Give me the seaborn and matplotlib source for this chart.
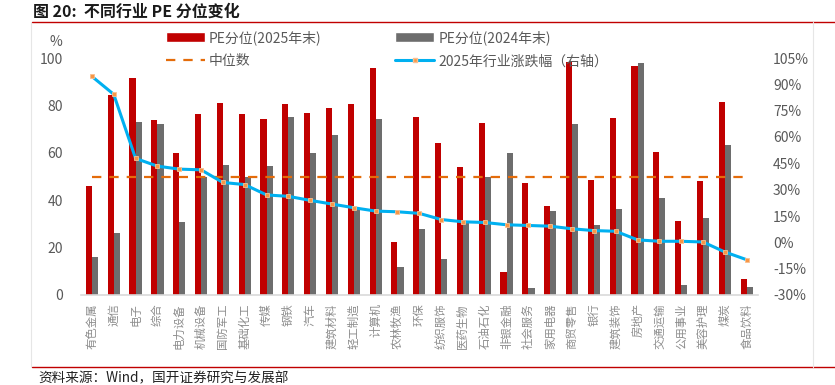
import numpy as np
import pandas as pd
import matplotlib
matplotlib.use("Agg")
import matplotlib.pyplot as plt
import seaborn as sns
from matplotlib.patches import Patch
from matplotlib.lines import Line2D

industries = ["有色金属", "通信", "电子", "综合", "电力设备", "机械设备", "国防军工", "基础化工",
              "传媒", "钢铁", "汽车", "建筑材料", "轻工制造", "计算机", "农林牧渔", "环保",
              "纺织服饰", "医药生物", "石油石化", "非银金融", "社会服务", "家用电器", "商贸零售",
              "银行", "建筑装饰", "房地产", "交通运输", "公用事业", "美容护理", "煤炭", "食品饮料"]
pe_2025 = [45.8, 84.3, 91.4, 73.9, 59.8, 76.5, 81.2, 76.2, 74.2, 80.5, 76.9, 79.0, 80.5, 95.6, 22.4, 75.2,
           64.2, 54.2, 72.7, 9.9, 47.2, 37.7, 98.4, 48.4, 74.8, 96.7, 60.2, 31.2, 48.2, 81.3, 6.7]
pe_2024 = [16.1, 26.2, 72.9, 72.0, 30.7, 49.9, 55.0, 49.6, 54.5, 74.9, 59.9, 67.7, 36.8, 74.2, 11.9, 27.9,
           15.2, 30.5, 49.6, 59.8, 3.0, 35.4, 72.2, 29.5, 36.4, 97.7, 41.1, 4.2, 32.4, 63.5, 3.4]
chg_2025 = [94.5, 84.3, 47.8, 43.4, 41.7, 41.3, 34.1, 32.9, 27.0, 26.2, 23.9, 21.8, 19.7, 17.8, 17.4, 16.5,
            13.0, 11.7, 11.3, 10.0, 9.6, 9.2, 7.7, 6.7, 6.3, 1.4, 0.6, 0.6, 0.2, -5.5, -9.9]
median_val = [50.0] * len(industries)
series_names = ["PE分位(2025年末)", "PE分位(2024年末)"]
line_name = "2025年行业涨跌幅（右轴）"
median_name = "中位数"
left_ticks = [0, 20, 40, 60, 80, 100]
right_ticks = [-30, -15, 0, 15, 30, 45, 60, 75, 90, 105]

sns.set_theme(style="white")
plt.rcParams['font.family'] = ['Noto Sans CJK SC', 'DejaVu Sans']

RED = "#C00000"
GRAY = "#6D6D6D"
CYAN = "#00B0F0"
ORANGE = "#E46C0A"
TXT = "#595959"

df = pd.DataFrame({
    "industry": industries * 2,
    "value": pe_2025 + pe_2024,
    "series": [series_names[0]] * len(industries) + [series_names[1]] * len(industries),
})

fig = plt.figure(figsize=(8.35, 3.85), dpi=100)
ax = fig.add_axes([81 / 835, 1 - 295 / 385, (757.6 - 81) / 835, (295 - 58) / 385])

sns.barplot(data=df, x="industry", y="value", hue="series", order=industries,
            hue_order=series_names, palette=[RED, GRAY], width=0.56, linewidth=0,
            saturation=1, legend=False, ax=ax, errorbar=None)
xpos = np.arange(len(industries))
sns.lineplot(x=xpos, y=median_val, ax=ax, color=ORANGE, linewidth=1.6,
             dashes=False, legend=False)
ax.lines[-1].set_dashes((4.2, 3.6))
ax.set_ylim(0, 100)
ax.set_xlim(-0.5, len(industries) - 0.5)
ax.set_yticks(left_ticks)
ax.set_yticklabels([str(t) for t in left_ticks])
ax.set_xlabel("")
ax.set_ylabel("")
ax.tick_params(axis='y', length=0, pad=13, labelsize=10, labelcolor=TXT)
ax.tick_params(axis='x', length=0, pad=6, labelsize=8.2, labelcolor="#8C8C8C")
ax.set_xticks(xpos)
ax.set_xticklabels(industries, rotation=90)
for s in ["top", "right", "left"]:
    ax.spines[s].set_visible(False)
ax.spines["bottom"].set_color("#D9D9D9")
ax.spines["bottom"].set_linewidth(1.2)

ax2 = ax.twinx()
sns.lineplot(x=xpos, y=chg_2025, ax=ax2, color=CYAN, linewidth=2.2, marker="s",
             markersize=3.2, markerfacecolor="#F79646", markeredgecolor="#FAC090",
             markeredgewidth=0.6, legend=False)
ax2.set_ylim(-30, 105)
ax2.set_yticks(right_ticks)
ax2.set_yticklabels([f"{t}%" for t in right_ticks])
ax2.tick_params(axis='y', length=0, pad=11, labelsize=10, labelcolor=TXT)
ax2.set_ylabel("")
for s in ["top", "right", "left", "bottom"]:
    ax2.spines[s].set_visible(False)
ax2.grid(False)
ax.grid(False)

fig.text(56 / 835, 1 - 42 / 385, "%", ha="center", va="center", fontsize=10, color=TXT)

handles = [Patch(facecolor=RED), Patch(facecolor=GRAY),
           Line2D([0], [0], color=ORANGE, linewidth=1.6, dashes=(4.2, 3.6)),
           Line2D([0], [0], color=CYAN, linewidth=2.2, marker="s", markersize=3.2,
                  markerfacecolor="#F79646", markeredgecolor="#FAC090")]
labels = [series_names[0], series_names[1], median_name, line_name]
leg = fig.legend([handles[0], handles[2], handles[1], handles[3]],
                 [labels[0], labels[2], labels[1], labels[3]],
                 ncol=2, loc="upper left", bbox_to_anchor=(166 / 835, 1 - 30 / 385),
                 frameon=False, fontsize=10, handlelength=2.8, handletextpad=0.3,
                 columnspacing=5.3, labelspacing=0.68, borderpad=0, borderaxespad=0,
                 labelcolor=TXT)

fig.text(33 / 835, 1 - 12 / 385, "图 20:  不同行业 PE 分位变化", ha="left", va="center",
         fontsize=11.5, fontweight="bold", color="#1a1a1a")
fig.add_artist(Line2D([32 / 835, 1.0], [1 - 22 / 385] * 2, color="#C00000", linewidth=1.0))
fig.add_artist(Line2D([32 / 835, 1.0], [1 - 367 / 385] * 2, color="#C00000", linewidth=1.0))
fig.add_artist(Line2D([31 / 835] * 2, [1 - 367 / 385, 1 - 22 / 385], color="#E6E6E6", linewidth=0.8))
fig.add_artist(Line2D([813 / 835] * 2, [1 - 367 / 385, 1 - 22 / 385], color="#E6E6E6", linewidth=0.8))
fig.text(38 / 835, 1 - 378 / 385, "资料来源：Wind，国开证券研究与发展部", ha="left", va="center",
         fontsize=9.8, color="#222222")

fig.savefig("out.png", dpi=100)
